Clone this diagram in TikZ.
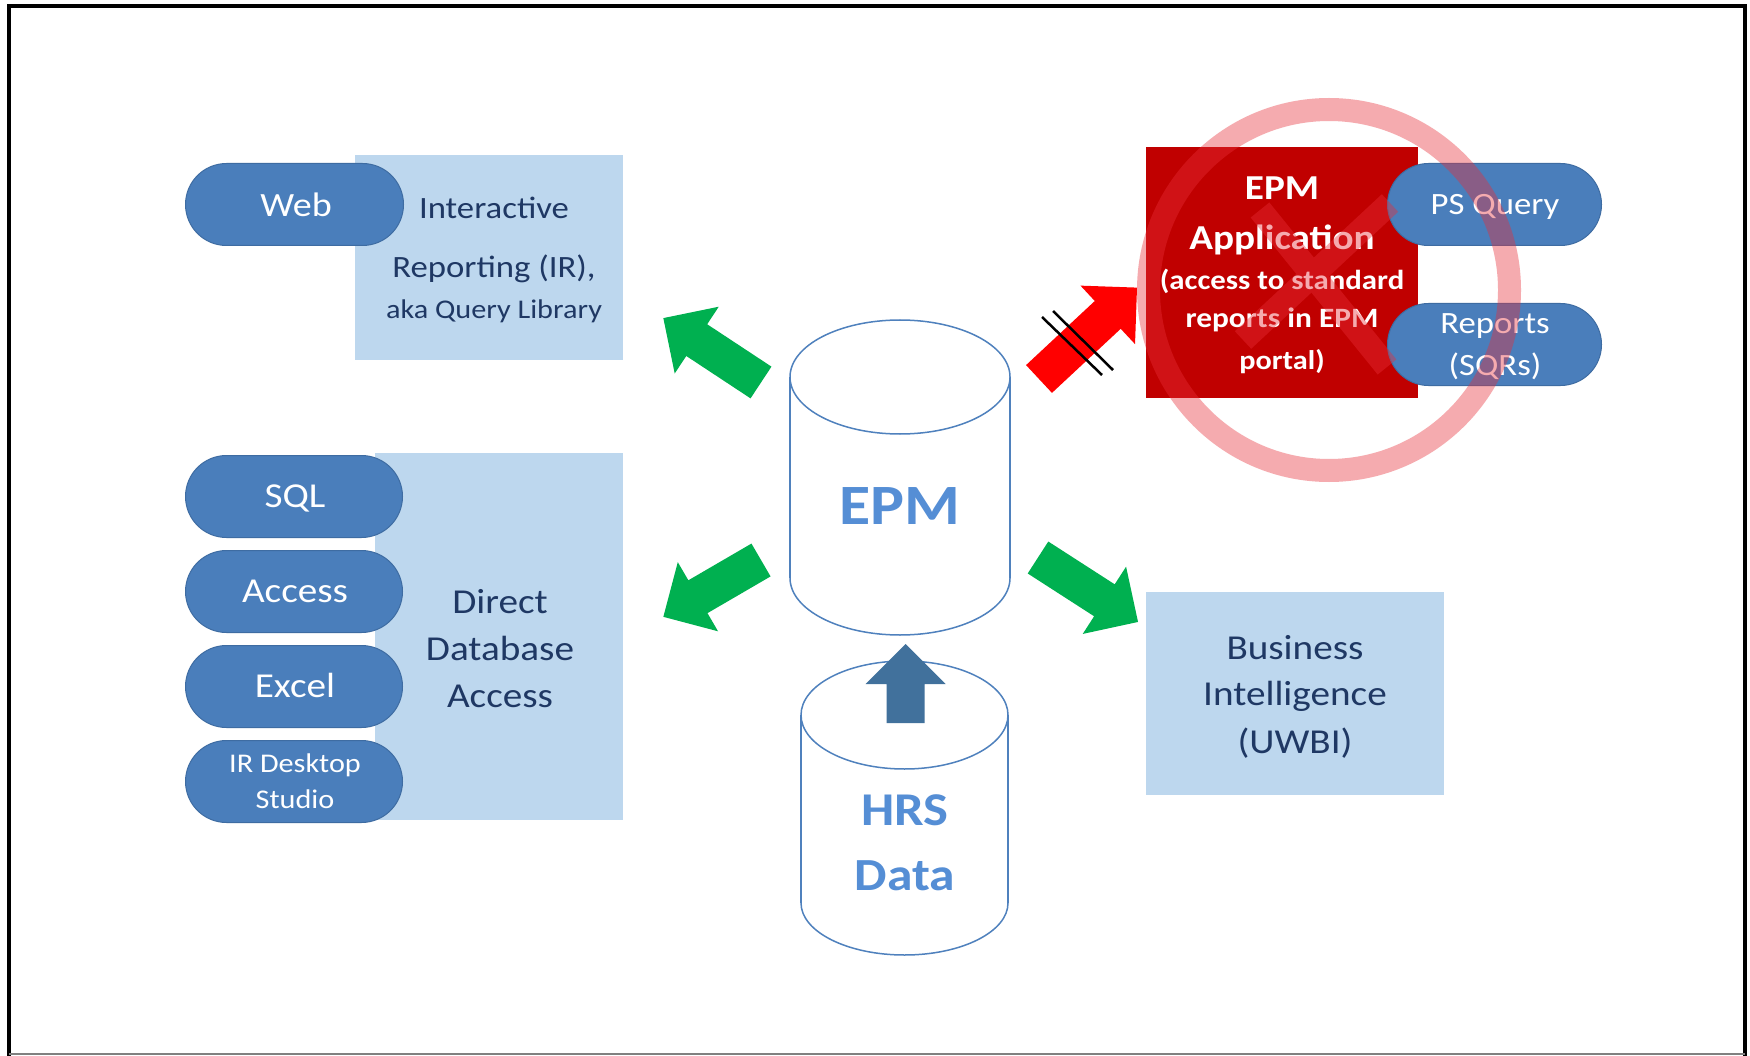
\documentclass[tikz,border=0pt]{standalone}
\usepackage{fontspec}
\setmainfont{Carlito}[FakeStretch=1.12]
\definecolor{lightbox}{RGB}{189,215,238}
\definecolor{pillblue}{RGB}{74,126,187}
\definecolor{pilledge}{RGB}{62,108,162}
\definecolor{navy}{RGB}{31,56,100}
\definecolor{cyltext}{RGB}{85,142,213}
\definecolor{cyledge}{RGB}{79,129,189}
\definecolor{arrgreen}{RGB}{0,176,80}
\definecolor{arrblue}{RGB}{65,113,156}
\definecolor{epmred}{RGB}{192,0,0}
\definecolor{ringpink}{RGB}{232,45,55}
\newcommand\myfs[1]{\fontsize{#1pt}{#1pt}\selectfont}
\tikzset{
  box/.style={fill=lightbox, draw=none, inner sep=0pt, anchor=north west},
  pill/.style={fill=pillblue, draw=pilledge, line width=1pt, rounded corners=41pt,
    minimum height=82pt, inner sep=0pt, anchor=north west},
  redbox/.style={fill=epmred, draw=none, inner sep=0pt, anchor=north west},
  nlbl/.style={anchor=base, inner sep=0pt, text=navy},
  wlbl/.style={anchor=base, inner sep=0pt, text=white},
  clbl/.style={anchor=base, inner sep=0pt, text=cyltext},
  cyl/.style={draw=cyledge, line width=1.5pt},
  pics/barrow/.style args={#1/#2}{code={
    \fill[#2] (0,-19) -- ({#1-40},-19) -- ({#1-40},-40) -- (#1,0)
      -- ({#1-40},40) -- ({#1-40},19) -- (0,19) -- cycle;}}
}
\begin{document}
\begin{tikzpicture}[x=1pt,y=-1pt]
\useasboundingbox (0,0) rectangle (1750,1056);
\fill[white] (0,0) rectangle (1750,1056);
% frame
\draw[line width=4.5pt] (9,1056) -- (9,6) -- (1745,6) -- (1745,1056);
\draw[line width=2pt, gray] (9,1054) -- (1745,1054);

% light boxes
\node[box, minimum width=268pt, minimum height=205pt] (irbox) at (355,155) {};
\node[box, minimum width=248pt, minimum height=367pt] (ddabox) at (375,453) {};
\node[box, minimum width=298pt, minimum height=203pt] (bibox) at (1146,592) {};

% left pills
\node[pill, minimum width=218pt] (webpill) at (185,163) {};
\node[pill, minimum width=217pt] (sqlpill) at (185,455) {};
\node[pill, minimum width=217pt] (accpill) at (185,550) {};
\node[pill, minimum width=217pt] (excpill) at (185,645) {};
\node[pill, minimum width=217pt] (irdpill) at (185,740) {};

% texts of left part
\node[wlbl] (tweb) at (296,217) {\myfs{34}Web};
\node[nlbl] (tir1) at (494,219) {\myfs{31}Interactive};
\node[nlbl] (tir2) at (494,278) {\myfs{31}Reporting (IR),};
\node[nlbl] (tir3) at (494,319) {\myfs{27}aka Query Library};
\node[wlbl] (tsql) at (295,507) {\myfs{35}SQL};
\node[wlbl] (tacc) at (295,602) {\myfs{35}Access};
\node[wlbl] (texc) at (295,697) {\myfs{35}Excel};
\node[wlbl] (tird1) at (295,772) {\myfs{27}IR Desktop};
\node[wlbl] (tird2) at (295,808) {\myfs{27}Studio};
\node[nlbl] (tdda1) at (500,613) {\myfs{35}Direct};
\node[nlbl] (tdda2) at (500,660) {\myfs{35}Database};
\node[nlbl] (tdda3) at (500,707) {\myfs{35}Access};

% BI text
\node[nlbl] (tbi1) at (1295,659) {\myfs{35}Business};
\node[nlbl] (tbi2) at (1295,705) {\myfs{35}Intelligence};
\node[nlbl] (tbi3) at (1295,753) {\myfs{35}(UWBI)};

% EPM cylinder
\fill[white] (790,377) rectangle (1010,578);
\fill[white] (900,578) ellipse [x radius=110pt, y radius=57pt];
\draw[cyl] (790,377) -- (790,578);
\draw[cyl] (1010,377) -- (1010,578);
\begin{scope}
  \clip (770,578) rectangle (1030,660);
  \draw[cyl] (900,578) ellipse [x radius=110pt, y radius=57pt];
\end{scope}
\draw[cyl, fill=white] (900,377) ellipse [x radius=110pt, y radius=57pt];
\node[clbl] (tepm) at (900,524) {\myfs{57}\bfseries EPM};

% HRS cylinder
\fill[white] (801,715) rectangle (1008,903);
\fill[white] (904.5,903) ellipse [x radius=103.5pt, y radius=52pt];
\draw[cyl] (801,715) -- (801,903);
\draw[cyl] (1008,715) -- (1008,903);
\begin{scope}
  \clip (780,903) rectangle (1030,980);
  \draw[cyl] (904.5,903) ellipse [x radius=103.5pt, y radius=52pt];
\end{scope}
\draw[cyl, fill=white] (904.5,715) ellipse [x radius=103.5pt, y radius=54pt];
\node[clbl] (thrs1) at (905,825) {\myfs{47}\bfseries HRS};
\node[clbl] (thrs2) at (905,890) {\myfs{46}\bfseries Data};

% block arrows
\coordinate (aul) at (761,382.5);
\coordinate (all) at (761,560);
\coordinate (alr) at (1038,557.5);
\coordinate (aur) at (1039,379);
\coordinate (aup) at (905.5,723);
\pic[rotate=146.6] at (aul) {barrow=117/arrgreen};
\pic[rotate=210.2] at (all) {barrow=113/arrgreen};
\pic[rotate=-32.8] at (alr) {barrow=119/arrgreen};
\pic[rotate=43] at (aur) {barrow=134/red};
\pic[rotate=90] at (aup) {barrow=79/arrblue};
% double slash across the red arrow
\coordinate (s1a) at (1042,317); \coordinate (s1b) at (1102,375);
\coordinate (s2a) at (1053,311); \coordinate (s2b) at (1113,370);
\draw[line width=2.5pt] (s1a) -- (s1b);
\draw[line width=2.5pt] (s2a) -- (s2b);

% EPM application box and pills
\node[redbox, minimum width=272pt, minimum height=251pt] (epmapp) at (1146,147) {};
\node[pill, minimum width=214pt] (pspill) at (1387,163) {};
\node[pill, minimum width=214pt] (reppill) at (1387,303) {};
\node[wlbl] (tapp1) at (1282,200) {\myfs{35}\bfseries EPM};
\node[wlbl] (tapp2) at (1282,250) {\myfs{35}\bfseries Application};
\node[wlbl] (tapp3) at (1282,290) {\myfs{27.5}\bfseries (access to standard};
\node[wlbl] (tapp4) at (1282,328) {\myfs{28}\bfseries reports in EPM};
\node[wlbl] (tapp5) at (1282,370) {\myfs{27}\bfseries portal)};
\node[wlbl] (tps) at (1495,215) {\myfs{31}PS Query};
\node[wlbl] (trep1) at (1495,334) {\myfs{31}Reports};
\node[wlbl] (trep2) at (1495,375) {\myfs{31}(SQRs)};

% prohibition ring with cross
\begin{scope}[transparency group, opacity=0.4]
  \draw[ringpink, line width=23pt] (1329,290) circle [radius=180.5pt];
  \draw[ringpink, line width=24pt] (1243,340) -- (1390,203);
  \draw[ringpink, line width=24pt] (1260,210) -- (1387,367);
\end{scope}
\end{tikzpicture}
\end{document}
